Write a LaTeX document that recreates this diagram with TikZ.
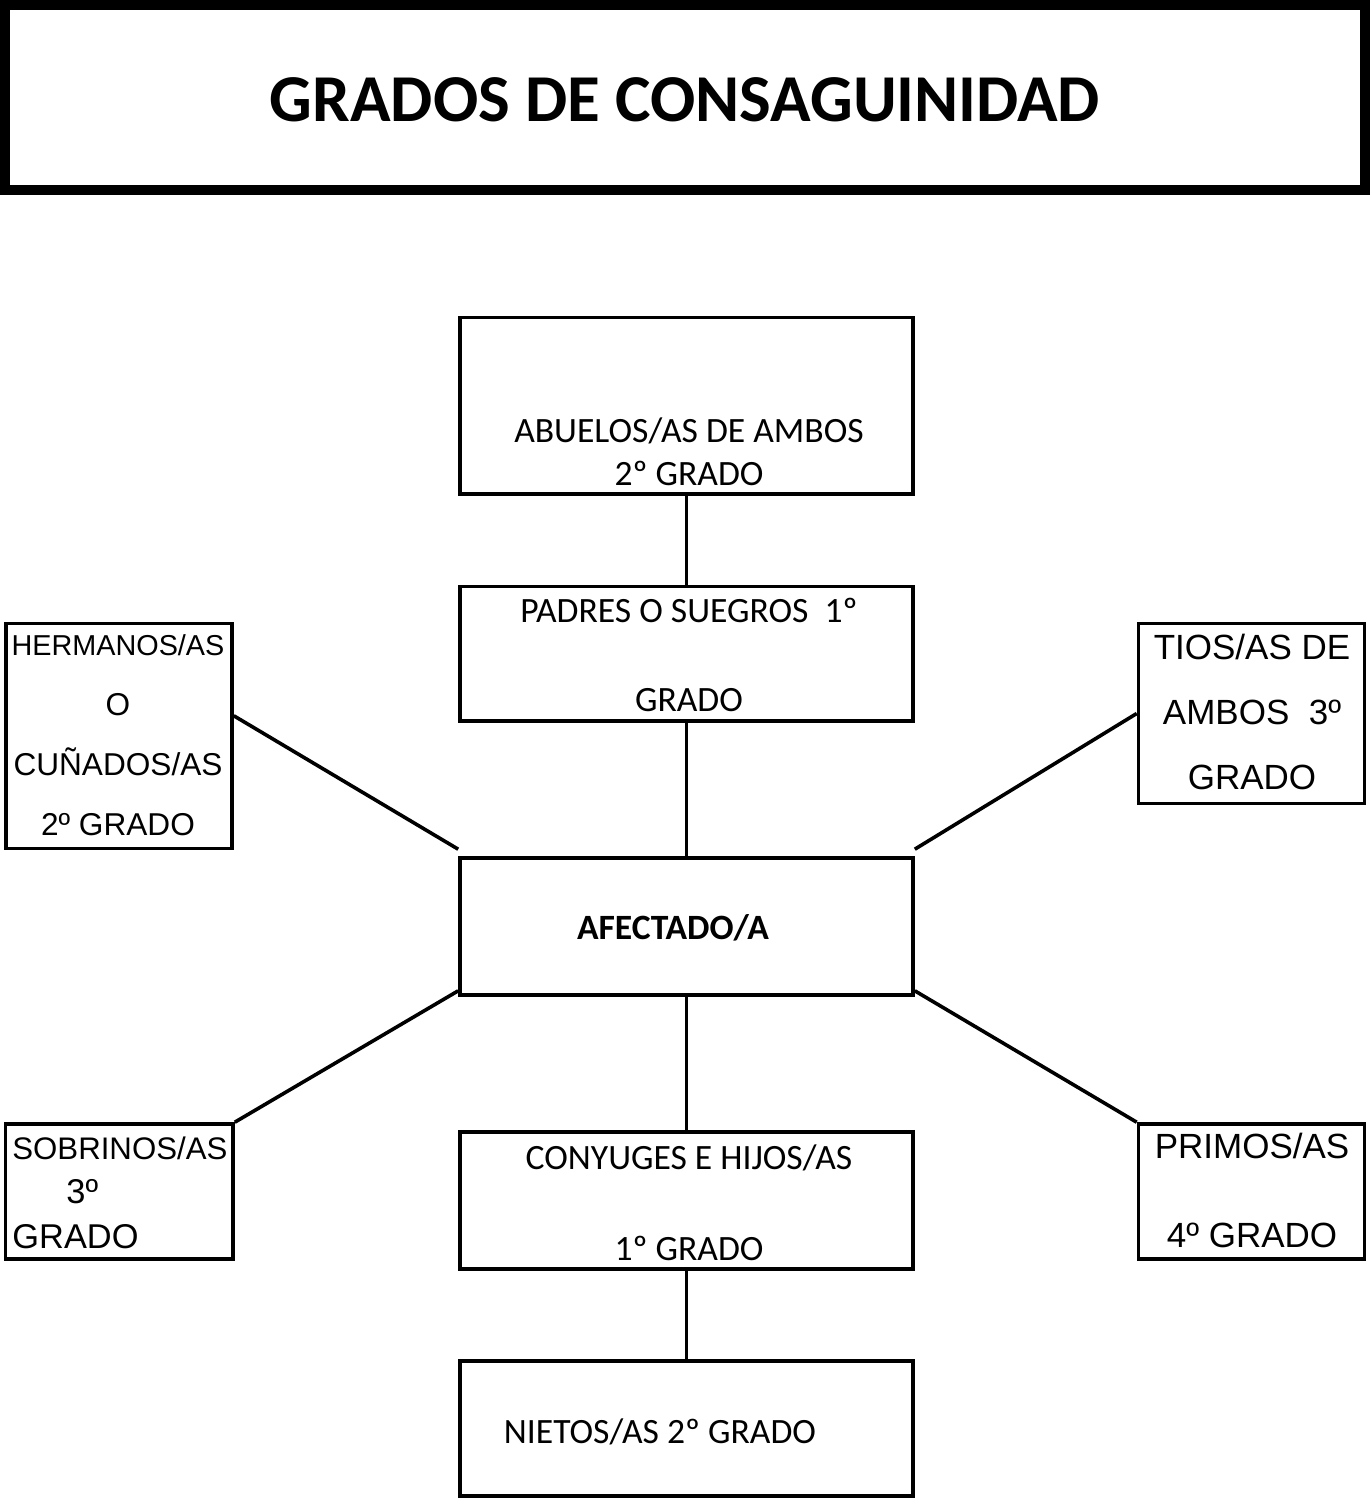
\documentclass[tikz,border=0pt]{standalone}
\usepackage{fontspec}
\setmainfont{Carlito}
\newfontfamily\arialfont{Liberation Sans}
\usetikzlibrary{positioning}

\begin{document}
\begin{tikzpicture}[
  x=0.5pt,y=-0.5pt,
  box/.style={draw,line width=1.8pt,minimum width=226.5pt,inner sep=0pt},
  sidebox/.style={draw,line width=1.8pt,minimum width=113pt,inner sep=0pt},
  link/.style={line width=1.8pt},
  boxtext/.style={inner sep=0pt,align=center,font=\fontsize{17.8}{21.5}\selectfont},
  sidetext/.style={inner sep=0pt,align=center,font=\arialfont\fontsize{15.8}{30}\selectfont}
]
  \useasboundingbox (0,0) rectangle (1370,1499);

  % title
  \node[draw,line width=5pt,minimum width=680pt,minimum height=92.5pt,inner sep=0pt,
    text height=24pt,text depth=0pt,font=\bfseries\fontsize{33.5}{40}\selectfont] (title) at (685,97.5) {GRADOS DE CONSAGUINIDAD};

  % central column
  \node[box,minimum height=88.25pt] (abuelos) at (686.5,405.75) {};
  \node[box,minimum height=67.25pt] (padres) at (686.5,653.75) {};
  \node[box,minimum height=68.5pt] (afectado) at (686.5,926.5) {};
  \node[box,minimum height=68.5pt] (conyuges) at (686.5,1200.5) {};
  \node[box,minimum height=67.5pt] (nietos) at (686.5,1428.5) {};

  \node[boxtext] (abuelostxt) at (689,451.5) {ABUELOS/AS DE AMBOS\\2º GRADO};
  \node[boxtext,font=\fontsize{17.8}{44.5}\selectfont] (padrestxt) at (689,654.5) {PADRES O SUEGROS\ \ 1º\\GRADO};
  \node[boxtext,font=\bfseries\fontsize{17.8}{21.5}\selectfont] (afectadotxt) at (673,928) {AFECTADO/A};
  \node[boxtext,font=\fontsize{17.8}{45.5}\selectfont] (conyugestxt) at (689,1202.5) {CONYUGES E HIJOS/AS\\1º GRADO};
  \node[boxtext] (nietostxt) at (660,1432) {NIETOS/AS 2º GRADO};

  % side boxes
  \node[sidebox,minimum height=112.5pt] (hermanos) at (119,736) {};
  \node[sidebox,minimum height=90pt] (tios) at (1251.5,713.5) {};
  \node[sidebox,minimum width=113.75pt,minimum height=67.5pt] (sobrinos) at (119.25,1191.5) {};
  \node[sidebox,minimum height=67.5pt] (primos) at (1251.5,1191.5) {};

  \node[sidetext] (hermanostxt) at (118,735.5)
    {{\fontsize{14.4}{30}\selectfont HERMANOS/AS}\\O\\CUÑADOS/AS\\2º GRADO};
  \node[sidetext,font=\arialfont\fontsize{17.5}{32.5}\selectfont] (tiostxt) at (1252,712)
    {TIOS/AS DE\\AMBOS\ \ 3º\\GRADO};
  \node[sidetext,align=left,anchor=west,font=\arialfont\fontsize{17.2}{22.3}\selectfont] (sobrinostxt) at (12,1192.5)
    {{\fontsize{15.6}{22.3}\selectfont SOBRINOS/AS}\\\hspace*{27pt}3º\\GRADO};
  \node[sidetext,font=\arialfont\fontsize{17.5}{44.5}\selectfont] (primostxt) at (1252,1190.5)
    {PRIMOS/AS\\4º GRADO};

  % connectors
  \draw[link] (abuelos.south) -- (padres.north);
  \draw[link] (padres.south) -- (afectado.north);
  \draw[link] (afectado.south) -- (conyuges.north);
  \draw[link] (conyuges.south) -- (nietos.north);
  \draw[link] (hermanos.10) -- ([yshift=3.5pt]afectado.north west);
  \draw[link] (tios.west) -- ([yshift=3.5pt]afectado.north east);
  \draw[link] (sobrinos.north east) -- ([yshift=3pt]afectado.south west);
  \draw[link] (primos.north west) -- ([yshift=3pt]afectado.south east);
\end{tikzpicture}
\end{document}
